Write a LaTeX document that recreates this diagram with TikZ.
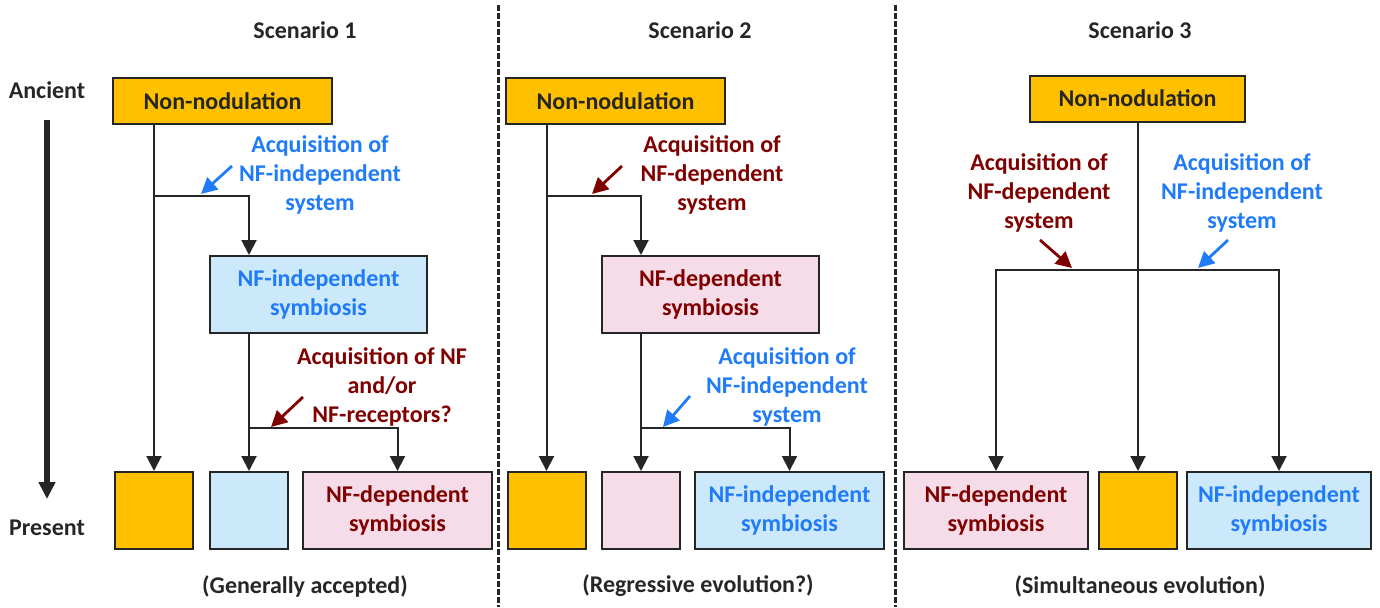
\documentclass[tikz,border=0pt]{standalone}
\usepackage{fontspec}
\setmainfont{Carlito}
\usepackage{xcolor}
\usepackage{tikz}
\usetikzlibrary{arrows.meta, positioning}

\definecolor{nodorange}{HTML}{FFC000}
\definecolor{indblue}{HTML}{1F7BF8}
\definecolor{depred}{HTML}{800000}
\definecolor{indfill}{HTML}{CCE8FB}
\definecolor{depfill}{HTML}{F5DCE8}
\definecolor{linegray}{HTML}{262626}

\begin{document}
\begin{tikzpicture}[x=0.5pt, y=-0.5pt,
    every node/.style={font=\bfseries\fontsize{12}{14.7}\selectfont, text=linegray},
    box/.style={draw=linegray, line width=1pt, inner sep=0pt, align=center, minimum height=38.5pt},
    topbox/.style={box, fill=nodorange, minimum width=109.5pt, minimum height=23pt},
    orbox/.style={box, fill=nodorange, minimum width=39pt},
    indbox/.style={box, fill=indfill, text=indblue},
    depbox/.style={box, fill=depfill, text=depred},
    indlab/.style={text=indblue, align=center},
    deplab/.style={text=depred, align=center},
    divider/.style={draw=linegray, line width=1.5pt, dash pattern=on 3pt off 1pt},
    link/.style={draw=linegray, line width=1pt},
    linkarr/.style={link, -{Triangle[width=7.5pt,length=7.5pt]}},
    bluearr/.style={draw=indblue, line width=1.4pt, -{Triangle[width=8pt,length=8pt]}},
    redarr/.style={draw=depred, line width=1.4pt, -{Triangle[width=8pt,length=8pt]}}]
    \useasboundingbox (0,0) rectangle (1380,607);

    % 1. Trục thời gian và đường phân cách
    \node (anc) at (47,90) {Ancient};
    \node (pres) at (47,528) {Present};
    \draw[line width=3pt, draw=linegray, -{Triangle[width=8pt,length=8.5pt]},
        shorten <=7pt, shorten >=7pt] (anc.south) -- (pres.north);
    \draw[divider] (498,5) -- (498,607);
    \draw[divider] (895,5) -- (895,607);

    \node (t1) at (305,30) {Scenario 1};
    \node (t2) at (700,30) {Scenario 2};
    \node (t3) at (1140,30) {Scenario 3};

    % 2. Scenario 1
    \node[topbox] (s1top) at (222.5,101) {Non-nodulation};
    \node[indbox, minimum width=108.5pt] (s1nfi) at (318.5,294.5) {NF-independent\\symbiosis};
    \node[orbox] (s1o) at (154,510.5) {};
    \node[indbox, minimum width=39pt] (s1b) at (249,510.5) {};
    \node[depbox, minimum width=94.5pt] (s1p) at (397.5,510.5) {NF-dependent\\symbiosis};
    \coordinate (s1j) at (154,196);
    \coordinate (s1k) at (249,428);
    \draw[linkarr] (s1top.south -| s1o.north) -- (s1o.north);
    \draw[linkarr] (s1j) -| (s1nfi.north -| s1b.north);
    \draw[linkarr] (s1nfi.south -| s1b.north) -- (s1b.north);
    \draw[linkarr] (s1k) -| (s1p.north);
    \node[indlab] (s1l1) at (320,175) {Acquisition of\\NF-independent\\system};
    \draw[bluearr] (232,166) -- (201,194);
    \node[deplab] (s1l2) at (382,387) {Acquisition of NF\\and/or\\NF-receptors?};
    \draw[redarr] (303,397) -- (271,427);
    \node (s1c) at (305,586) {(Generally accepted)};

    % 3. Scenario 2
    \node[topbox] (s2top) at (615.5,101) {Non-nodulation};
    \node[depbox, minimum width=108.5pt] (s2nfd) at (710.5,294.5) {NF-dependent\\symbiosis};
    \node[orbox] (s2o) at (546.5,510.5) {};
    \node[depbox, minimum width=39pt] (s2p) at (641,510.5) {};
    \node[indbox, minimum width=94.5pt] (s2b) at (789.5,510.5) {NF-independent\\symbiosis};
    \coordinate (s2j) at (546.5,196);
    \coordinate (s2k) at (641,428);
    \draw[linkarr] (s2top.south -| s2o.north) -- (s2o.north);
    \draw[linkarr] (s2j) -| (s2nfd.north -| s2p.north);
    \draw[linkarr] (s2nfd.south -| s2p.north) -- (s2p.north);
    \draw[linkarr] (s2k) -| (s2b.north);
    \node[deplab] (s2l1) at (712,175) {Acquisition of\\NF-dependent\\system};
    \draw[redarr] (622,166) -- (592,194);
    \node[indlab] (s2l2) at (787,387) {Acquisition of\\NF-independent\\system};
    \draw[bluearr] (690,396) -- (663,427);
    \node (s2c) at (698,586) {(Regressive evolution?)};

    % 4. Scenario 3
    \node[topbox, minimum width=107.5pt] (s3top) at (1137.5,98.5) {Non-nodulation};
    \node[depbox, minimum width=92pt] (s3p) at (996,510.5) {NF-dependent\\symbiosis};
    \node[orbox] (s3o) at (1138,510.5) {};
    \node[indbox, minimum width=92pt] (s3b) at (1279,510.5) {NF-independent\\symbiosis};
    \coordinate (s3j) at (1138,270);
    \draw[linkarr] (s3top.south -| s3o.north) -- (s3o.north);
    \draw[linkarr] (s3j) -| (s3p.north);
    \draw[linkarr] (s3j) -| (s3b.north);
    \node[deplab] (s3l1) at (1039,193) {Acquisition of\\NF-dependent\\system};
    \draw[redarr] (1040,240) -- (1072,268);
    \node[indlab] (s3l2) at (1242,193) {Acquisition of\\NF-independent\\system};
    \draw[bluearr] (1228,240) -- (1198,268);
    \node (s3c) at (1140,586) {(Simultaneous evolution)};
\end{tikzpicture}
\end{document}
